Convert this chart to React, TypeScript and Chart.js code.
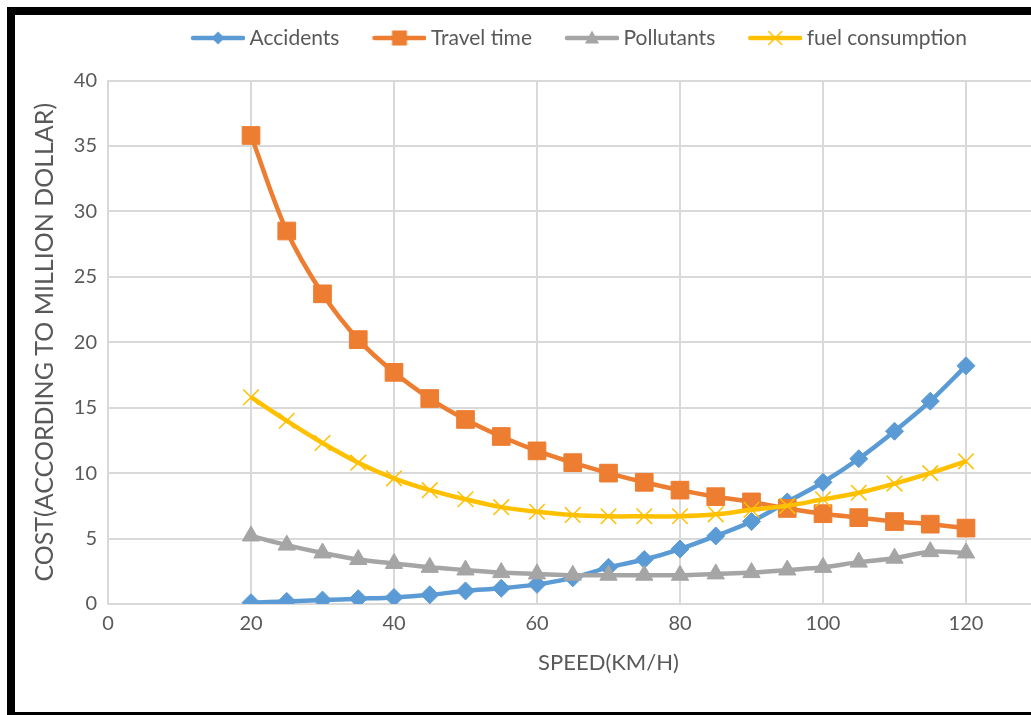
import React, { useEffect, useRef } from "react";
import { Chart, registerables } from "chart.js";

Chart.register(...registerables);

const speeds = [20, 25, 30, 35, 40, 45, 50, 55, 60, 65, 70, 75, 80, 85, 90, 95, 100, 105, 110, 115, 120];
const accidents = [0.1, 0.2, 0.3, 0.4, 0.5, 0.7, 1.0, 1.2, 1.5, 2.0, 2.8, 3.4, 4.2, 5.2, 6.3, 7.8, 9.3, 11.1, 13.2, 15.5, 18.2];
const travelTime = [35.8, 28.5, 23.7, 20.2, 17.7, 15.7, 14.1, 12.8, 11.7, 10.8, 10.0, 9.3, 8.7, 8.2, 7.8, 7.3, 6.9, 6.6, 6.3, 6.1, 5.8];
const pollutants = [5.2, 4.5, 3.9, 3.4, 3.1, 2.8, 2.6, 2.4, 2.3, 2.2, 2.2, 2.2, 2.2, 2.3, 2.4, 2.6, 2.8, 3.2, 3.5, 4.0, 3.9];
const fuel = [15.8, 14.0, 12.3, 10.8, 9.6, 8.7, 8.0, 7.4, 7.05, 6.8, 6.7, 6.7, 6.7, 6.85, 7.2, 7.5, 8.0, 8.5, 9.2, 10.0, 10.9];

const seriesNames = ["Accidents", "Travel time", "Pollutants", "fuel consumption"];
const seriesColors = ["#5B9BD5", "#ED7D31", "#A5A5A5", "#FFC000"];
const xTitle = "SPEED(KM/H)";
const yTitle = "COST(ACCORDING TO MILLION DOLLAR)";

const TEXT = "#595959";
const GRID = "#D9D9D9";
const FONT = "Lato";

function legendIcon(kind: string, color: string): HTMLCanvasElement {
  const c = document.createElement("canvas");
  c.width = 83;
  c.height = 22;
  const ctx = c.getContext("2d")!;
  ctx.strokeStyle = color;
  ctx.fillStyle = color;
  ctx.lineWidth = 4.5;
  ctx.lineCap = "round";
  ctx.beginPath();
  ctx.moveTo(31, 11);
  ctx.lineTo(81, 11);
  ctx.stroke();
  const cx = 56;
  const cy = 11;
  ctx.beginPath();
  if (kind === "diamond") {
    ctx.moveTo(cx, cy - 6.5);
    ctx.lineTo(cx + 6.5, cy);
    ctx.lineTo(cx, cy + 6.5);
    ctx.lineTo(cx - 6.5, cy);
    ctx.closePath();
    ctx.fill();
  } else if (kind === "square") {
    ctx.rect(cx - 7.5, cy - 7.5, 15, 15);
    ctx.fill();
  } else if (kind === "triangle") {
    ctx.moveTo(cx, cy - 7.5);
    ctx.lineTo(cx + 7, cy + 5.5);
    ctx.lineTo(cx - 7, cy + 5.5);
    ctx.closePath();
    ctx.fill();
  } else {
    ctx.lineWidth = 1.5;
    ctx.moveTo(cx - 6.5, cy - 6.5);
    ctx.lineTo(cx + 6.5, cy + 6.5);
    ctx.moveTo(cx + 6.5, cy - 6.5);
    ctx.lineTo(cx - 6.5, cy + 6.5);
    ctx.stroke();
  }
  return c;
}

const legendSpacer = {
  id: "legendSpacer",
  beforeUpdate(chart: any) {
    const lg = chart.legend;
    if (lg && !lg._spacerPatched) {
      const orig = lg.fit;
      lg.fit = function () {
        orig.call(this);
        this.height += 22;
      };
      lg._spacerPatched = true;
    }
  },
};

export default function App() {
  const ref = useRef<HTMLCanvasElement | null>(null);

  useEffect(() => {
    if (!ref.current) return;
    const kinds = ["diamond", "square", "triangle", "x"];
    const icons = kinds.map((k, i) => legendIcon(k, seriesColors[i]));
    const pts = (arr: number[]) => speeds.map((s, i) => ({ x: s, y: arr[i] }));
    const chart = new Chart(ref.current, {
      type: "line",
      data: {
        datasets: [
          {
            label: seriesNames[0],
            data: pts(accidents),
            borderColor: seriesColors[0],
            backgroundColor: seriesColors[0],
            pointStyle: "rectRot",
            pointRadius: 9,
            pointBorderWidth: 1,
            borderWidth: 4.5,
            tension: 0.35,
            order: 4,
          },
          {
            label: seriesNames[1],
            data: pts(travelTime),
            borderColor: seriesColors[1],
            backgroundColor: seriesColors[1],
            pointStyle: "rect",
            pointRadius: 12.5,
            pointBorderWidth: 1,
            borderWidth: 4.5,
            tension: 0.35,
            order: 3,
          },
          {
            label: seriesNames[2],
            data: pts(pollutants),
            borderColor: seriesColors[2],
            backgroundColor: seriesColors[2],
            pointStyle: "triangle",
            pointRadius: 10,
            pointBorderWidth: 1,
            borderWidth: 4.5,
            tension: 0.35,
            order: 2,
          },
          {
            label: seriesNames[3],
            data: pts(fuel),
            borderColor: seriesColors[3],
            backgroundColor: seriesColors[3],
            pointStyle: "crossRot",
            pointRadius: 11,
            pointBorderWidth: 1.5,
            borderWidth: 4.5,
            tension: 0.35,
            order: 1,
          },
        ],
      } as any,
      options: {
        animation: false,
        responsive: false,
        layout: { padding: { top: 2.5, left: 11, right: 32, bottom: 0 } },
        plugins: {
          tooltip: { enabled: false },
          legend: {
            position: "top",
            labels: {
              usePointStyle: true,
              pointStyleWidth: 71,
              padding: 10,
              color: TEXT,
              font: { family: FONT, size: 21 },
              sort: (a: any, b: any) => a.datasetIndex - b.datasetIndex,
              generateLabels: (ch: any) => {
                const items = (Chart as any).defaults.plugins.legend.labels.generateLabels(ch);
                items.forEach((it: any) => {
                  it.pointStyle = icons[it.datasetIndex];
                });
                return items;
              },
            },
          },
        },
        scales: {
          x: {
            type: "linear",
            min: 0,
            max: 140,
            ticks: { stepSize: 20, padding: 8, color: TEXT, font: { family: FONT, size: 20 } },
            grid: { color: GRID, lineWidth: 2, drawTicks: false },
            border: { color: GRID, width: 2 },
            title: {
              display: true,
              text: xTitle,
              color: TEXT,
              font: { family: FONT, size: 22 },
              padding: { top: 0, bottom: 0 },
            },
            afterFit: (s: any) => {
              s.height = 72;
            },
          },
          y: {
            min: 0,
            max: 40,
            ticks: { stepSize: 5, padding: 11, color: TEXT, font: { family: FONT, size: 20 } },
            grid: { color: GRID, lineWidth: 2, drawTicks: false },
            border: { color: GRID, width: 2 },
            title: {
              display: true,
              text: yTitle,
              color: TEXT,
              font: { family: FONT, size: 25 },
              padding: { top: 4, bottom: 0 },
            },
            afterFit: (s: any) => {
              s.width = 82;
            },
          },
        },
      } as any,
      plugins: [legendSpacer],
    });
    return () => chart.destroy();
  }, []);

  return (
    <div
      style={{
        position: "fixed",
        left: 0,
        top: 0,
        width: 1031,
        height: 715,
        overflow: "hidden",
        background: "#ffffff",
      }}
    >
      <div
        style={{
          position: "absolute",
          left: 7,
          top: 7,
          width: 1200,
          height: 713,
          boxSizing: "border-box",
          borderTop: "8px solid #000",
          borderLeft: "8px solid #000",
          borderBottom: "8px solid #000",
        }}
      />
      <canvas
        ref={ref}
        width={1126}
        height={661}
        style={{ position: "absolute", left: 15, top: 15, display: "block" }}
      />
    </div>
  );
}
